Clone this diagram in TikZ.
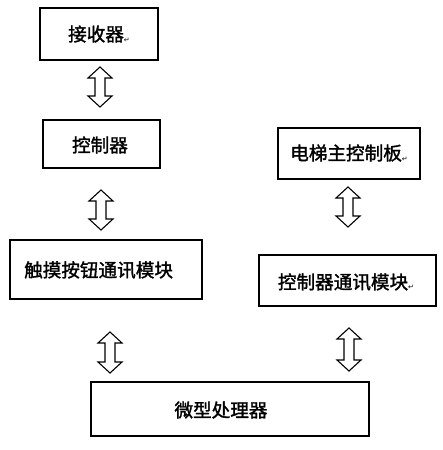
\documentclass[tikz,border=0pt]{standalone}
\usepackage{fontspec}
\newfontfamily\cjk[FakeBold=1.6]{Noto Sans CJK SC}
\newfontfamily\symfont{DejaVu Sans}
\newcommand\pmark{{\symfont\fontsize{7}{7}\selectfont\raisebox{-1pt}{↵}}}
\newcommand\hollowarrow[3]{%
  \draw[arrowline] (#1-12,#2+11) -- (#1,#2) -- (#1+12,#2+11) -- (#1+5,#2+11)
    -- (#1+5,#3-11) -- (#1+12,#3-11) -- (#1,#3) -- (#1-12,#3-11)
    -- (#1-5,#3-11) -- (#1-5,#2+11) -- cycle;}
\begin{document}
\begin{tikzpicture}[x=1pt,y=-1pt,
  box/.style={draw,line width=1.1pt},
  lbl/.style={font=\cjk\fontsize{18.6}{18.6}\selectfont,inner sep=0pt},
  arrowline/.style={draw,line width=1.1pt,line join=miter,fill=white}]
\useasboundingbox (0,0) rectangle (442,450);
% boxes
\draw[box] (40,8) rectangle (158,60);
\node[lbl] (t1) at (99,34) {接收器\pmark};
\draw[box] (43,120) rectangle (160,168);
\node[lbl] (t2) at (100,145) {控制器};
\draw[box] (10,240) rectangle (202,299);
\node[lbl,anchor=west] (t3) at (24,270) {触摸按钮通讯模块};
\draw[box] (91,382) rectangle (369,436);
\node[lbl] (t4) at (221,410) {微型处理器};
\draw[box] (278,128) rectangle (420,179);
\node[lbl] (t5) at (349,153) {电梯主控制板\pmark};
\draw[box] (259,255) rectangle (436,306);
\node[lbl] (t6) at (346,282) {控制器通讯模块\pmark};
% double arrows
\hollowarrow{100}{67}{107}
\hollowarrow{101}{190}{230}
\hollowarrow{110}{332}{373}
\hollowarrow{348}{187}{227}
\hollowarrow{349}{328}{371}
\end{tikzpicture}
\end{document}
